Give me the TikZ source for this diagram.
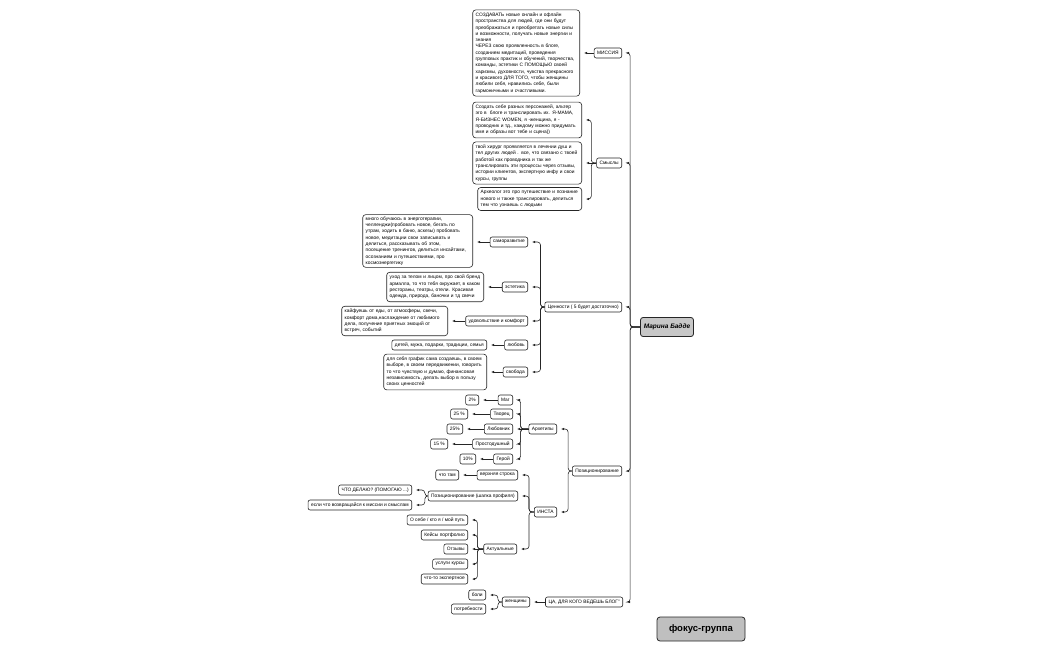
\documentclass[tikz,border=0pt]{standalone}
\usepackage{fontspec}
\setmainfont{Liberation Sans}
\usetikzlibrary{arrows.meta,calc}
\newcommand\mmfs{\fontsize{4.85}{6.3}\selectfont}
\newcommand\mmlink[3]{\draw[conn] (#1.west) -- ++(-#3,0) |- (#2.east);}
\newcommand\mmstraight[2]{\draw[conn] (#1.west) -- (#2.east);}
\begin{document}
\begin{tikzpicture}[x=1pt,y=-1pt,
 box/.style={draw=black!85, line width=0.6pt, rounded corners=2pt, fill=white, font=\mmfs, inner xsep=3pt, inner ysep=1.5pt, minimum height=10pt, anchor=east},
 txt/.style={box, align=left, inner xsep=3pt, inner ysep=3pt, rounded corners=3pt},
 conn/.style={draw=black!85, line width=0.6pt, rounded corners=3pt, -{Latex[length=3pt,width=2.4pt]}, shorten >=4pt}]
\useasboundingbox (0,0) rectangle (1050,650);

% root and focus
\node[draw=black!85, line width=0.8pt, fill=black!22, rounded corners=2.5pt, minimum width=52pt, minimum height=19pt, font=\fontsize{6.5}{7}\selectfont\bfseries\itshape] (root) at (667,327) {Марина Бадде};
\node[draw=black!85, line width=0.8pt, fill=black!25, rounded corners=3pt, minimum width=88pt, minimum height=24pt, font=\fontsize{9.5}{11}\selectfont\bfseries] (focus) at (701,629) {фокус-группа};

% level 1
\node[box] (mis) at (622,53) {МИССИЯ};
\node[box] (smy) at (622,163) {Смыслы};
\node[box] (cen) at (622,307) {Ценности ( 5 будет достаточно)};
\node[box] (poz) at (622,471) {Позиционирование};
\node[box] (ca) at (623,602) {ЦА, ДЛЯ КОГО ВЕДЕШЬ БЛОГ"};

% mission
\node[txt, text width=101pt] (mist) at (580,53) {СОЗДАВАТЬ новые онлайн и офлайн\\
пространства для людей, где они будут\\
преображаться и преобретать новые силы\\
и возможности, получать новые энергии и\\
знания\\
ЧЕРЕЗ свою проявленность в блоге,\\
созданием медитаций, проведения\\
групповых практик и обучений, творчества,\\
команды, эстетики С ПОМОЩЬЮ своей\\
харизмы, духовности, чувства прекрасного\\
и красивого ДЛЯ ТОГО, чтобы женщины\\
любили себя, нравились себе, были\\
гармоничными и счастливыми.};

% smysly
\node[txt, text width=103pt] (s1) at (582,120) {Создать себе разных персонажей, альтер\\
эго в\ \ блоге и транслировать их. Я-МАМА,\\
Я-БИЗНЕС WOMEN, я -женщина, я -\\
проводник и тд., каждому можно придумать\\
имя и образы вот тебе и сцена))};
\node[txt, text width=103pt] (s2) at (582,163) {твой хирург проявляется в лечении душ и\\
тел других людей . все, что связано с твоей\\
работой как проводника и так же\\
транслировать эти процессы через отзывы,\\
истории клиентов, экспертную инфу и свои\\
курсы, группы};
\node[txt, text width=98pt] (s3) at (582,199) {Археолог это про путешествие и познание\\
нового и также транслировать, делиться\\
тем что узнаешь с людьми};

% values
\node[box] (sam) at (528,242) {саморазвитие};
\node[box] (est) at (528,287) {эстетика};
\node[box] (udo) at (528,321) {удовольствие и комфорт};
\node[box] (lyu) at (528,345) {любовь};
\node[box] (svo) at (528,372) {свобода};

\node[txt, text width=104pt, inner ysep=2pt] (samt) at (473,241) {много обучаюсь в энерготерапии,\\
челленджи(пробовать новое, бегать по\\
утрам, ходить в баню, аскезы) пробовать\\
новое, медитации свои записывать и\\
делиться, рассказывать об этом,\\
посещение тренингов, делиться инсайтами,\\
осознанием и путешествиями, про\\
космоэнергетику};
\node[txt, text width=91pt] (estt) at (484,287) {уход за телом и лицом, про свой бренд\\
армалла, то что тебя окружает, в каком\\
рестораны, театры, отели. Красивая\\
одежда, природа, баночки и тд свечи};
\node[txt, text width=100pt] (udot) at (448,321) {кайфуешь от еды, от атмосферы, свечи,\\
комфорт дома,наслаждение от любимого\\
дела, получение приятных эмоций от\\
встреч, событий};
\node[box] (lyut) at (487,345) {детей, мужа, подарки, традиции, семья};
\node[txt, text width=97pt] (svot) at (487,372) {для себя график сама создаешь, в своем\\
выборе, в своем передвижении, говорить\\
то что чувствую и думаю, финансовая\\
независимость, делать выбор в пользу\\
своих ценностей};

% positioning
\node[box] (arh) at (557,429) {Архетипы};
\node[box] (ins) at (557,512) {ИНСТА};

\node[box] (mag) at (513,400) {Маг};
\node[box] (tvo) at (513,414) {Творец};
\node[box] (lyub) at (513,429) {Любовник};
\node[box] (pro) at (513,444) {Простодушный};
\node[box] (ger) at (513,459) {Герой};
\node[box] (magt) at (479,400) {2\%};
\node[box] (tvot) at (468,414) {25 \%};
\node[box] (lyubt) at (463,429) {25\%};
\node[box] (prot) at (448,444) {15 \%};
\node[box] (gert) at (476,459) {10\%};

\node[box] (verh) at (518,475) {верхняя строка};
\node[box] (pozsh) at (518,496) {Позиционирование (шапка профиля)};
\node[box] (akt) at (517,549) {Актуальные};
\node[box] (verht) at (459,475) {что там};
\node[box] (p1) at (412,490) {ЧТО ДЕЛАЮ? (ПОМОГАЮ ...)};
\node[box] (p2) at (412,505) {если что возвращайся к миссии и смыслам};
\node[box] (a1) at (468,520) {О себе / кто я / мой путь};
\node[box] (a2) at (468,535) {Кейсы портфолио};
\node[box] (a3) at (468,549) {Отзывы};
\node[box] (a4) at (468,564) {услуги курсы};
\node[box] (a5) at (468,579) {что-то экспертное};

% target audience
\node[box] (zhen) at (530,602) {женщины};
\node[box] (boli) at (486,595) {боли};
\node[box] (potr) at (486,609) {потребности};

% connectors
\mmlink{root}{mis}{10}
\mmlink{root}{smy}{10}
\mmlink{root}{cen}{10}
\mmlink{root}{poz}{10}
\mmlink{root}{ca}{10}

\mmstraight{mis}{mist}
\mmlink{smy}{s1}{5}
\mmstraight{smy}{s2}
\mmlink{smy}{s3}{5}

\mmlink{cen}{sam}{4}
\mmlink{cen}{est}{4}
\mmlink{cen}{udo}{4}
\mmlink{cen}{lyu}{4}
\mmlink{cen}{svo}{4}
\draw[conn] (sam.west) -- (sam.west -| samt.east);
\mmstraight{est}{estt}
\mmstraight{udo}{udot}
\mmstraight{lyu}{lyut}
\mmstraight{svo}{svot}

\mmlink{poz}{arh}{4}
\mmlink{poz}{ins}{4}
\mmlink{arh}{mag}{8}
\mmlink{arh}{tvo}{8}
\mmstraight{arh}{lyub}
\mmlink{arh}{pro}{8}
\mmlink{arh}{ger}{8}
\mmstraight{mag}{magt}
\mmstraight{tvo}{tvot}
\mmstraight{lyub}{lyubt}
\mmstraight{pro}{prot}
\mmstraight{ger}{gert}

\mmlink{ins}{verh}{5}
\mmlink{ins}{pozsh}{5}
\mmlink{ins}{akt}{5}
\mmstraight{verh}{verht}
\mmlink{pozsh}{p1}{3}
\mmlink{pozsh}{p2}{3}
\mmlink{akt}{a1}{6}
\mmlink{akt}{a2}{6}
\mmstraight{akt}{a3}
\mmlink{akt}{a4}{6}
\mmlink{akt}{a5}{6}

\mmstraight{ca}{zhen}
\mmlink{zhen}{boli}{4}
\mmlink{zhen}{potr}{4}
\end{tikzpicture}
\end{document}
